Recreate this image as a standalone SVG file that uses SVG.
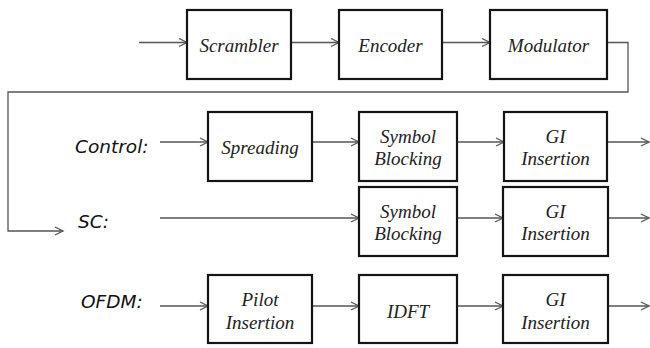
<svg xmlns="http://www.w3.org/2000/svg" width="650" height="348" viewBox="0 0 650 348">
  <defs>
    <style>
      .box { fill: #ffffff; stroke: #141414; stroke-width: 2.2; }
      .lbl { font-style: italic; font-size: 19px; fill: #222; text-anchor: middle; }
      .mode { font-style: oblique; font-size: 18.5px; fill: #111; }
      .wire { fill: none; stroke: #555; stroke-width: 1.3; }
      .arrow { marker-end: url(#head); }
    </style>
    <marker id="head" markerUnits="userSpaceOnUse" markerWidth="12" markerHeight="12" refX="9" refY="5" orient="auto">
      <path d="M1,1 L9,5 L1,9" fill="none" stroke="#555" stroke-width="1.3"/>
    </marker>
  </defs>
  <rect width="650" height="348" fill="#ffffff"/>

  <!-- connectors -->
  <g id="connectors">
    <line class="wire arrow" x1="139" y1="42.5" x2="187" y2="42.5"/>
    <line class="wire arrow" x1="291" y1="42.5" x2="339" y2="42.5"/>
    <line class="wire arrow" x1="442" y1="42.5" x2="490" y2="42.5"/>
    <polyline class="wire arrow" points="608,42.5 628,42.5 628,92 8,92 8,231 63,231"/>

    <line class="wire arrow" x1="160" y1="142" x2="208" y2="142"/>
    <line class="wire arrow" x1="312" y1="142" x2="359" y2="142"/>
    <line class="wire arrow" x1="457" y1="142" x2="504" y2="142"/>
    <line class="wire arrow" x1="607" y1="142" x2="649" y2="142"/>

    <line class="wire arrow" x1="160" y1="218" x2="359" y2="218"/>
    <line class="wire arrow" x1="457" y1="218" x2="503" y2="218"/>
    <line class="wire arrow" x1="608" y1="218" x2="649" y2="218"/>

    <line class="wire arrow" x1="160" y1="306" x2="208" y2="306"/>
    <line class="wire arrow" x1="312" y1="306" x2="359" y2="306"/>
    <line class="wire arrow" x1="457" y1="306" x2="503" y2="306"/>
    <line class="wire arrow" x1="608" y1="306" x2="649" y2="306"/>
  </g>

  <!-- mode labels -->
  <g font-family="DejaVu Sans, sans-serif">
    <text class="mode" x="75" y="153">Control:</text>
    <text class="mode" x="78" y="228">SC:</text>
    <text class="mode" x="81" y="308">OFDM:</text>
  </g>

  <g font-family="Liberation Serif, Times New Roman, serif">
    <!-- common chain -->
    <g id="scrambler">
      <rect class="box" x="187" y="10" width="104" height="69"/>
      <text class="lbl" x="239" y="51.5">Scrambler</text>
    </g>
    <g id="encoder">
      <rect class="box" x="339" y="10" width="103" height="69"/>
      <text class="lbl" x="390.5" y="51.5">Encoder</text>
    </g>
    <g id="modulator">
      <rect class="box" x="490" y="10" width="117" height="69"/>
      <text class="lbl" x="548.5" y="51.5">Modulator</text>
    </g>

    <!-- control path -->
    <g id="spreading">
      <rect class="box" x="208" y="112" width="104" height="69"/>
      <text class="lbl" x="260" y="153.5">Spreading</text>
    </g>
    <g id="ctrl-blocking">
      <rect class="box" x="359" y="112" width="98" height="69"/>
      <text class="lbl" x="408" y="143">Symbol</text>
      <text class="lbl" x="408" y="164.5">Blocking</text>
    </g>
    <g id="ctrl-gi">
      <rect class="box" x="504" y="112" width="103" height="69"/>
      <text class="lbl" x="555.5" y="143">GI</text>
      <text class="lbl" x="555.5" y="164.5">Insertion</text>
    </g>

    <!-- single carrier path -->
    <g id="sc-blocking">
      <rect class="box" x="359" y="187" width="98" height="69"/>
      <text class="lbl" x="408" y="218">Symbol</text>
      <text class="lbl" x="408" y="239.5">Blocking</text>
    </g>
    <g id="sc-gi">
      <rect class="box" x="503" y="187" width="105" height="69"/>
      <text class="lbl" x="555.5" y="218">GI</text>
      <text class="lbl" x="555.5" y="239.5">Insertion</text>
    </g>

    <!-- OFDM path -->
    <g id="pilot">
      <rect class="box" x="208" y="275" width="104" height="68"/>
      <text class="lbl" x="260" y="306">Pilot</text>
      <text class="lbl" x="260" y="329">Insertion</text>
    </g>
    <g id="idft">
      <rect class="box" x="359" y="275" width="98" height="68"/>
      <text class="lbl" x="408" y="317.5">IDFT</text>
    </g>
    <g id="ofdm-gi">
      <rect class="box" x="503" y="275" width="105" height="68"/>
      <text class="lbl" x="555.5" y="306">GI</text>
      <text class="lbl" x="555.5" y="329">Insertion</text>
    </g>
  </g>
</svg>
